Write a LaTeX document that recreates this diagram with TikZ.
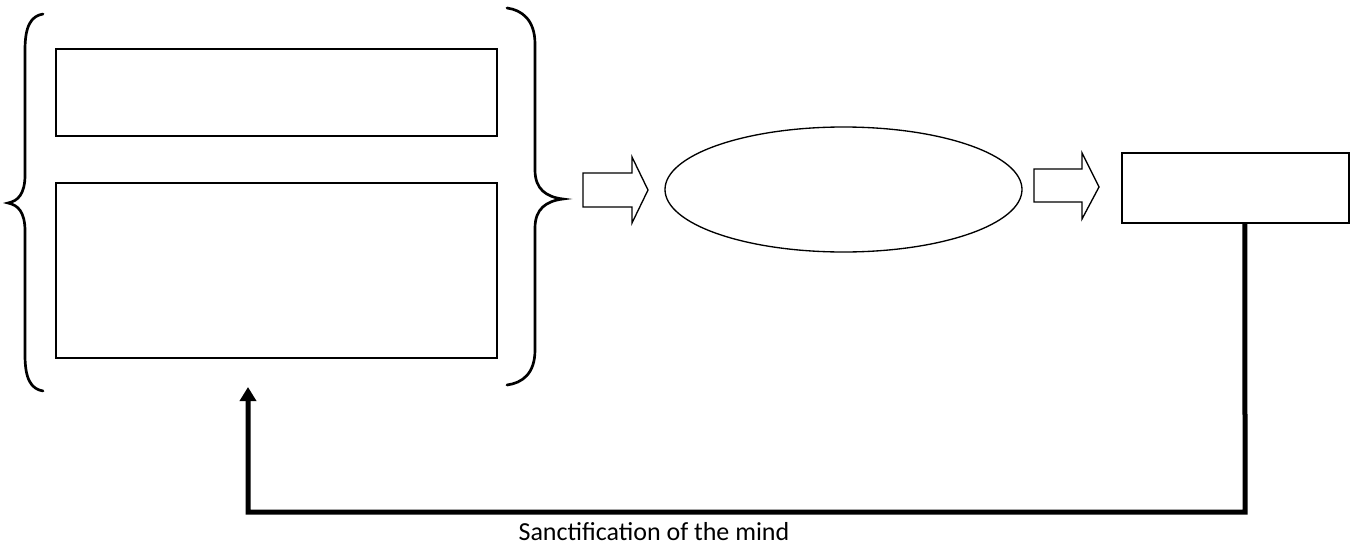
\documentclass[tikz,border=0pt]{standalone}
\usepackage{fontspec}
\setmainfont{Carlito}
\usetikzlibrary{arrows.meta,shapes.geometric}
\begin{document}
\begin{tikzpicture}[x=0.75pt,y=-0.75pt,
  box/.style={draw,line width=1pt,inner sep=0pt,outer sep=0pt,rectangle},
  oval/.style={draw,line width=1pt,inner sep=0pt,outer sep=0pt,ellipse},
  brace/.style={line width=2pt,line cap=round},
  blockarrow/.style={draw,line width=1pt,line join=miter},
  feedback/.style={line width=3.75pt,line join=miter,-{Triangle[width=12pt,length=10.5pt]}}]
\useasboundingbox (0,0) rectangle (1354,546);
% boxes
\node[box,minimum width=330.75pt,minimum height=65.25pt] (r1) at (276.5,92.5) {};
\node[box,minimum width=330.75pt,minimum height=131.25pt] (r2) at (276.5,270.5) {};
\node[oval,minimum width=267.75pt,minimum height=93.75pt] (e) at (843.5,189.5) {};
\node[box,minimum width=170.25pt,minimum height=52.5pt] (r3) at (1235.5,188) {};
% left brace
\draw[brace] (43,14) .. controls (31,16) and (25,26) .. (25,50)
  -- (25,175) .. controls (25,194) and (18,201) .. (8,203)
  .. controls (18,205) and (25,212) .. (25,231)
  -- (25,355) .. controls (25,379) and (31,389) .. (43,391);
% right brace
\draw[brace] (507,8) .. controls (522,10) and (535,20) .. (535,44)
  -- (535,170) .. controls (535,189) and (546,197) .. (563,199)
  .. controls (546,201) and (535,209) .. (535,228)
  -- (535,350) .. controls (535,374) and (522,383) .. (507,385);
% block arrows
\draw[blockarrow] (583,173) -- (632,173) -- (632,157) -- (648,190) -- (632,223) -- (632,207) -- (583,207) -- cycle;
\draw[blockarrow] (1034,169) -- (1082,169) -- (1082,153) -- (1099,187) -- (1082,219) -- (1082,202) -- (1034,202) -- cycle;
% feedback
\coordinate (c1) at (1245,512);
\coordinate (c2) at (248,512);
\coordinate (tip) at (248,387);
\draw[feedback] ([xshift=7.1pt]r3.south) -- (c1) -- (c2) -- (tip);
\node[font=\fontsize{19.5}{23}\selectfont,anchor=base] (lbl) at (654,540) {Sanctification of the mind};
\end{tikzpicture}
\end{document}
